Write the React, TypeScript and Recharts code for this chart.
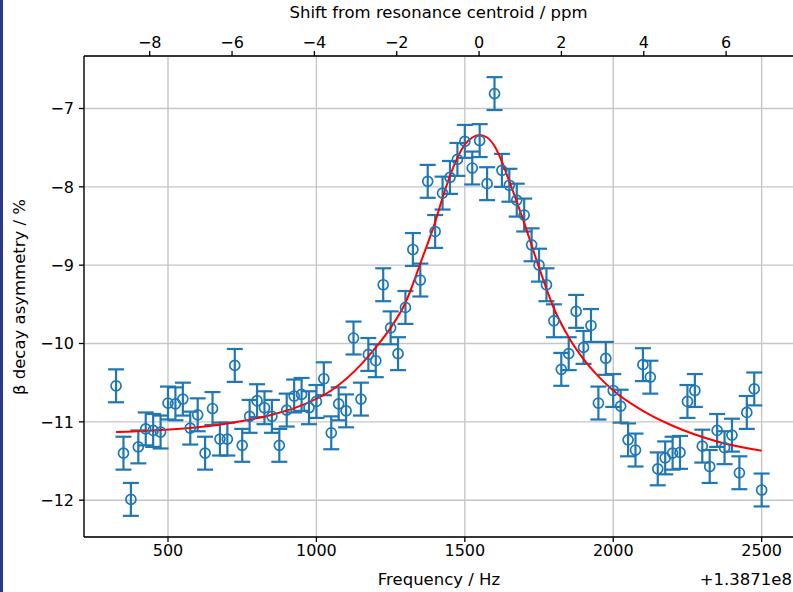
import React from 'react';
import { ComposedChart, Scatter, Line, XAxis, YAxis, CartesianGrid, ErrorBar } from 'recharts';

// measured frequency offsets (Hz, relative to 1.3871e8)
const freqHz = [
  325, 350, 375, 400, 425, 450, 475, 500, 525, 550, 575, 600, 625, 650, 675, 700, 725, 750,
  775, 800, 825, 850, 875, 900, 925, 950, 975, 1000, 1025, 1050, 1075, 1100, 1125, 1150, 1175, 1200,
  1225, 1250, 1275, 1300, 1325, 1350, 1375, 1400, 1425, 1450, 1475, 1500, 1525, 1550, 1575, 1600,
  1625, 1650, 1675, 1700, 1725, 1750, 1775, 1800, 1825, 1850, 1875, 1900, 1925, 1950, 1975, 2000,
  2025, 2050, 2075, 2100, 2125, 2150, 2175, 2200, 2225, 2250, 2275, 2300, 2325, 2350, 2375, 2400,
  2425, 2450, 2475, 2500,
];

// beta decay asymmetry (%)
const asymmetry = [
  -10.54, -11.40, -11.99, -11.32, -11.09, -11.11, -11.13, -10.76, -10.77, -10.71, -11.08, -10.91,
  -11.40, -10.83, -11.22, -11.22, -10.28, -11.30, -10.93, -10.73, -10.82, -10.93, -11.30, -10.85,
  -10.67, -10.65, -10.82, -10.74, -10.45, -11.14, -10.77, -10.86, -9.93, -10.71, -10.14, -10.22,
  -9.25, -9.80, -10.13, -9.54, -8.80, -9.19, -7.93, -8.57, -8.08, -7.88, -7.65, -7.42,
  -7.76, -7.41, -7.96, -6.81, -7.79, -7.98, -8.17, -8.36, -8.74, -9.00, -9.25, -9.71,
  -10.33, -10.13, -9.59, -10.05, -9.77, -10.76, -10.19, -10.60, -10.80, -11.23, -11.36, -10.27,
  -10.43, -11.60, -11.46, -11.40, -11.39, -10.74, -10.60, -11.31, -11.57, -11.11, -11.33, -11.17,
  -11.65, -10.88, -10.58, -11.87,
];

const asymError = [
  0.21, 0.21, 0.21, 0.21, 0.21, 0.21, 0.21, 0.21, 0.21, 0.21, 0.21, 0.21,
  0.21, 0.21, 0.21, 0.21, 0.21, 0.21, 0.21, 0.21, 0.21, 0.21, 0.21, 0.21,
  0.21, 0.21, 0.21, 0.21, 0.21, 0.21, 0.21, 0.21, 0.21, 0.21, 0.21, 0.21,
  0.21, 0.21, 0.21, 0.21, 0.21, 0.21, 0.21, 0.21, 0.21, 0.21, 0.21, 0.21,
  0.21, 0.21, 0.21, 0.21, 0.21, 0.21, 0.21, 0.21, 0.21, 0.21, 0.21, 0.21,
  0.21, 0.21, 0.21, 0.21, 0.21, 0.21, 0.21, 0.21, 0.21, 0.21, 0.21, 0.21,
  0.21, 0.21, 0.21, 0.21, 0.21, 0.21, 0.21, 0.21, 0.21, 0.21, 0.21, 0.21,
  0.21, 0.21, 0.21, 0.21,
];

// fitted resonance curve
const fitHz = [
  325, 450, 600, 750, 850, 950, 1050, 1150, 1200, 1250, 1300, 1350, 1400, 1425, 1450, 1475,
  1500, 1525, 1550, 1575, 1600, 1625, 1650, 1675, 1700, 1750, 1800, 1850, 1900, 1950, 2000,
  2100, 2200, 2350, 2500,
];
const fitAsym = [
  -11.13, -11.11, -11.07, -10.99, -10.91, -10.79, -10.60, -10.27, -10.05, -9.80, -9.48, -8.98,
  -8.45, -8.14, -7.86, -7.63, -7.46, -7.37, -7.34, -7.37, -7.48, -7.68, -7.93, -8.19, -8.46,
  -9.03, -9.55, -9.92, -10.20, -10.42, -10.60, -10.86, -11.05, -11.25, -11.37,
];

const freqTicks = [500, 1000, 1500, 2000, 2500];
const ppmTicks = [-8, -6, -4, -2, 0, 2, 4, 6];
const asymTicks = [-12, -11, -10, -9, -8, -7];

const CENTROID_HZ = 1548;
const HZ_PER_PPM = 138.71;

const points = freqHz.map((f, i) => ({ f, v: asymmetry[i], err: asymError[i] }));
const fitPoints = fitHz.map((f, i) => ({ f, v: fitAsym[i] }));

const FONT = '"DejaVu Sans", sans-serif';
const BLUE = '#1f77b4';
const tickStyle = { fill: '#000', fontSize: 16, fontFamily: FONT };
const spine = { stroke: '#000', strokeWidth: 1.3 };

const fmt = (v: number) => (v < 0 ? '\u2212' + Math.abs(v) : String(v));

const OpenCircle = (props: any) => (
  <circle cx={props.cx} cy={props.cy} r={5} fill="none" stroke={BLUE} strokeWidth={1.7} />
);

export default function App() {
  return (
    <div style={{ position: 'absolute', left: 0, top: 0, width: 793, height: 592, overflow: 'hidden', background: '#fff', fontFamily: FONT }}>
      <ComposedChart width={794} height={592} margin={{ top: 0, right: 0, bottom: 0, left: 0 }}>
        <CartesianGrid stroke="#c6c6c6" strokeWidth={1.4} />
        <XAxis
          dataKey="f"
          type="number"
          domain={[217, 2609]}
          ticks={freqTicks}
          allowDataOverflow
          height={55}
          tickSize={5}
          tickMargin={3}
          axisLine={spine}
          tickLine={spine}
          tick={tickStyle}
        />
        <XAxis
          xAxisId="top"
          orientation="top"
          dataKey="f"
          type="number"
          domain={[217, 2609]}
          ticks={ppmTicks.map((p) => CENTROID_HZ + p * HZ_PER_PPM)}
          tickFormatter={(v: number) => fmt(Math.round((v - CENTROID_HZ) / HZ_PER_PPM))}
          allowDataOverflow
          height={56}
          tickSize={5}
          tickMargin={3}
          axisLine={spine}
          tickLine={spine}
          tick={tickStyle}
        />
        <YAxis
          dataKey="v"
          type="number"
          domain={[-12.47, -6.33]}
          ticks={asymTicks}
          tickFormatter={fmt}
          allowDataOverflow
          width={84}
          tickSize={5}
          tickMargin={5}
          axisLine={spine}
          tickLine={spine}
          tick={tickStyle}
        />
        <Scatter data={points} dataKey="v" shape={OpenCircle} isAnimationActive={false}>
          <ErrorBar dataKey="err" direction="y" width={8} stroke={BLUE} strokeWidth={2.2} isAnimationActive={false} />
        </Scatter>
        <Line
          data={fitPoints}
          dataKey="v"
          type="monotone"
          stroke="#ff0000"
          strokeWidth={2}
          dot={false}
          activeDot={false}
          isAnimationActive={false}
        />
      </ComposedChart>

      <div style={{ position: 'absolute', left: 0, width: 877, top: 3, textAlign: 'center', fontSize: 16.5, lineHeight: '20px' }}>
        Shift from resonance centroid / ppm
      </div>
      <div style={{ position: 'absolute', left: 0, width: 878, top: 570, textAlign: 'center', fontSize: 16.5, lineHeight: '20px' }}>
        Frequency / Hz
      </div>
      <div style={{ position: 'absolute', right: 1, top: 570, fontSize: 16.5, lineHeight: '20px' }}>+1.3871e8</div>
      <div
        style={{
          position: 'absolute',
          left: 20,
          top: 297,
          transform: 'translate(-50%, -50%) rotate(-90deg)',
          whiteSpace: 'nowrap',
          fontSize: 16.5,
          lineHeight: '20px',
        }}
      >
        β decay asymmetry / %
      </div>
      <div style={{ position: 'absolute', left: 0, top: 0, width: 3, height: 592, background: '#2a3990' }} />
    </div>
  );
}
